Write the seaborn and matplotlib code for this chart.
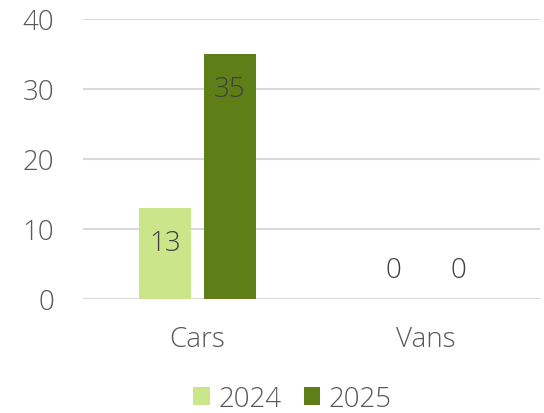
import matplotlib
matplotlib.use("Agg")
import matplotlib.pyplot as plt
import pandas as pd
import seaborn as sns

# data
categories = ["Cars", "Vans"]
years = ["2024", "2025"]
values_2024 = [13, 0]
values_2025 = [35, 0]
colors = ["#cbe68a", "#5e7f18"]

df = pd.DataFrame({
    "category": categories * 2,
    "year": [years[0]] * 2 + [years[1]] * 2,
    "value": values_2024 + values_2025,
})

sns.set_theme(style="white")
plt.rcParams["font.family"] = ["Open Sans", "DejaVu Sans"]

fig = plt.figure(figsize=(5.44, 4.14), dpi=100)
ax = fig.add_axes([83 / 544, 1 - 300 / 414, 457 / 544, 280 / 414])

sns.barplot(data=df, x="category", y="value", hue="year", palette=colors,
            width=0.569, gap=0.2, saturation=1, edgecolor="none", linewidth=0,
            ax=ax, zorder=3)

ax.set_ylim(0, 40)
ax.set_xlim(-0.5, 1.5)
ax.set_yticks([0, 10, 20, 30, 40])
ax.yaxis.grid(True, color="#d9d9d9", linewidth=1.5, zorder=0)
ax.set_axisbelow(True)
for s in ax.spines.values():
    s.set_visible(False)
ax.set_xlabel("")
ax.set_ylabel("")
ax.tick_params(axis="y", length=0, pad=21, labelsize=20, labelcolor="#595959")
ax.tick_params(axis="x", length=0, pad=19, labelsize=20, labelcolor="#595959")
for lbl in ax.get_xticklabels() + ax.get_yticklabels():
    lbl.set_fontweight("light")

# data labels, inside end
for cont in ax.containers:
    for bar in cont:
        h = bar.get_height()
        xc = bar.get_x() + bar.get_width() / 2
        off = -35 if h > 0 else 29
        ax.annotate(f"{h:.0f}", (xc, h), xytext=(0, off), textcoords="offset pixels",
                    ha="center", va="center", fontsize=20, color="#404040",
                    fontweight="light", zorder=5)

ax.legend_.remove()
handles, labels = ax.get_legend_handles_labels()
leg = fig.legend(handles, labels, loc="center", bbox_to_anchor=(292.5 / 544, 14 / 414),
                 ncol=2, frameon=False, fontsize=20, handlelength=0.6, handleheight=0.6,
                 handletextpad=0.3, columnspacing=0.8)
for t in leg.get_texts():
    t.set_color("#595959")
    t.set_fontweight("light")

fig.savefig("out.png", dpi=100)
